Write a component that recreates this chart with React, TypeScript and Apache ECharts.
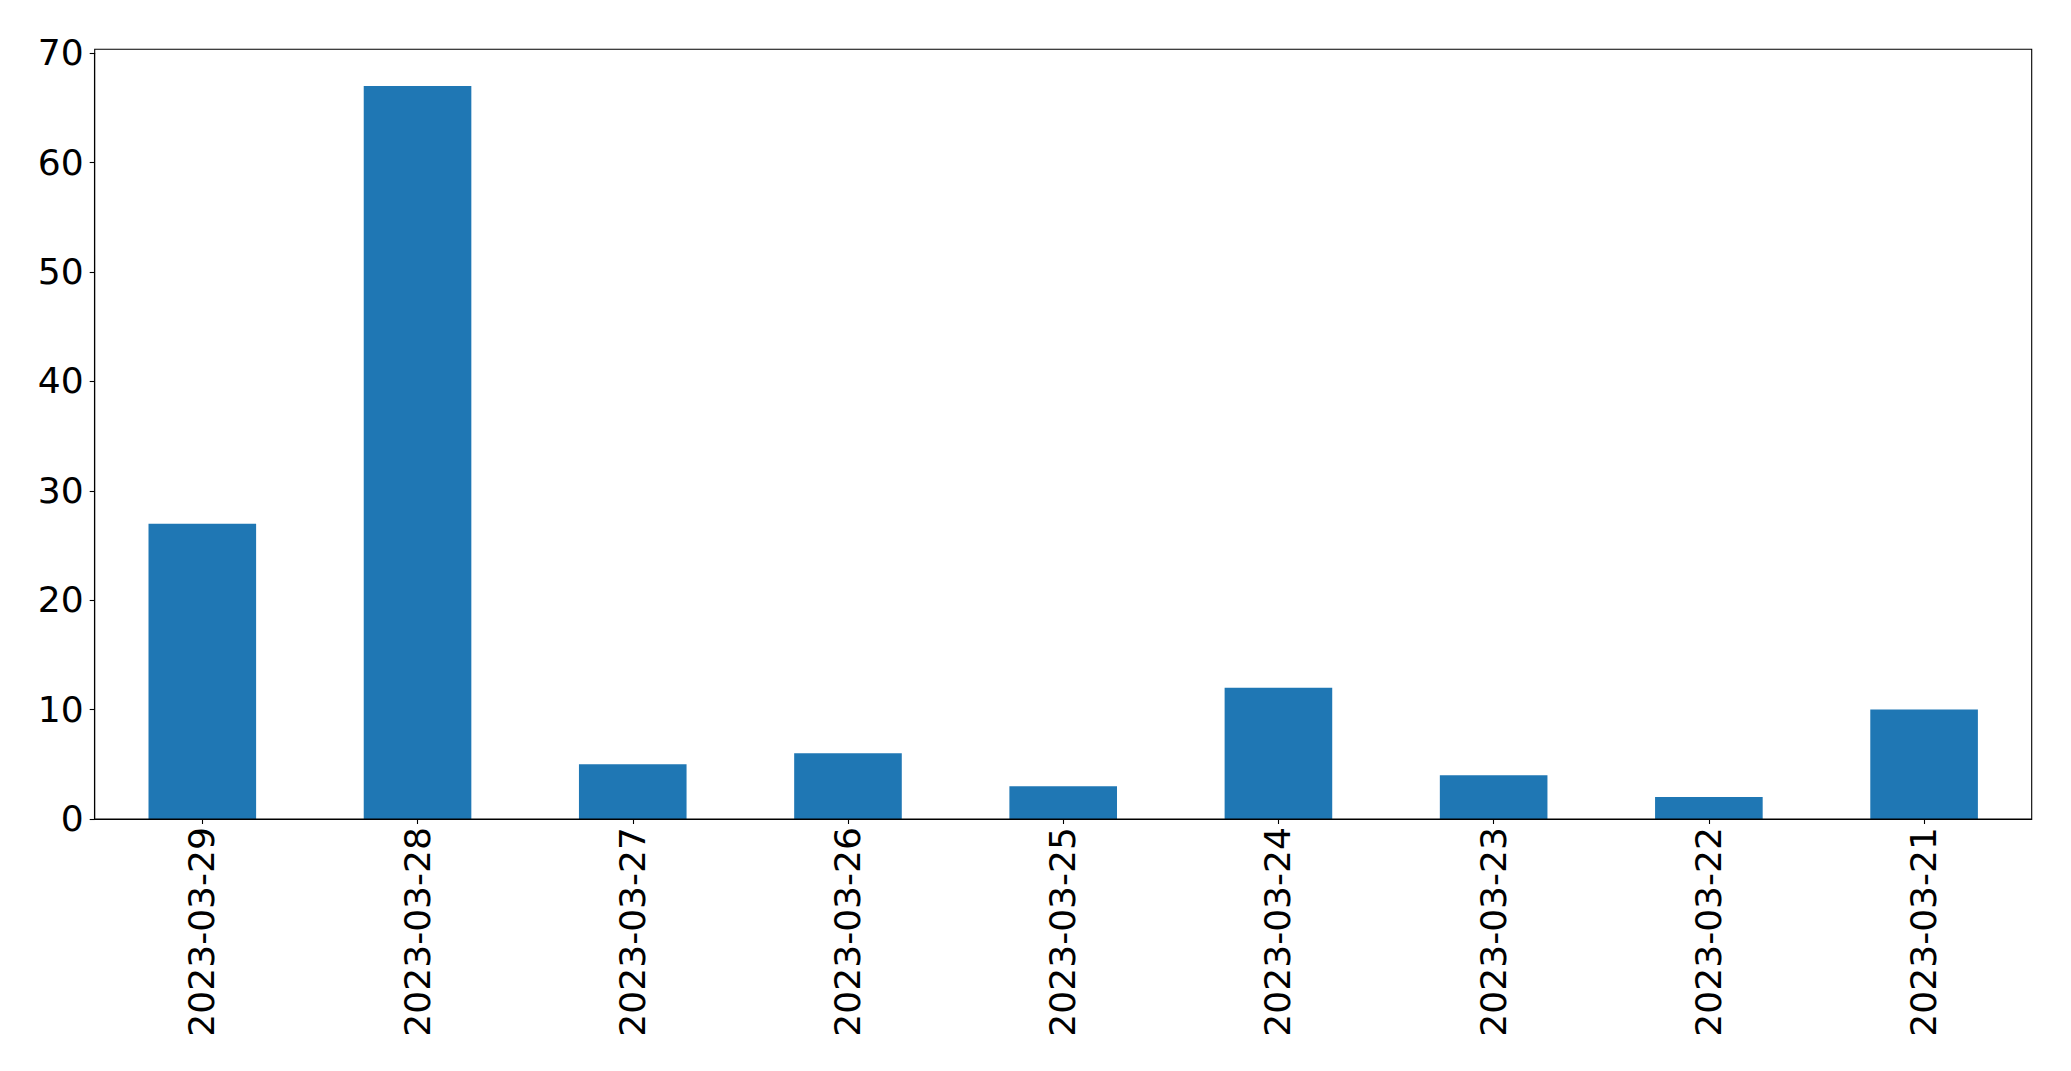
import React, { useEffect, useRef } from "react";
import * as echarts from "echarts";

const categories = [
  "2023-03-29",
  "2023-03-28",
  "2023-03-27",
  "2023-03-26",
  "2023-03-25",
  "2023-03-24",
  "2023-03-23",
  "2023-03-22",
  "2023-03-21",
];
const values = [27, 67, 5, 6, 3, 12, 4, 2, 10];

const W = 2071;
const H = 1071;
const LEFT = 94.7;
const RIGHT_X = 2031.7;
const TOP_FRAME = 49.3;
const TOP_70 = 53.3;
const BOTTOM_Y = 819;

export default function App() {
  const ref = useRef<HTMLDivElement>(null);
  useEffect(() => {
    if (!ref.current) return;
    const chart = echarts.init(ref.current, null, { renderer: "svg" });
    const font = "DejaVu Sans";
    chart.setOption({
      animation: false,
      backgroundColor: "#ffffff",
      grid: {
        left: LEFT,
        right: W - RIGHT_X,
        top: TOP_70,
        bottom: H - BOTTOM_Y,
        containLabel: false,
      },
      xAxis: {
        type: "category",
        data: categories,
        boundaryGap: true,
        axisLine: { show: true, lineStyle: { color: "#000", width: 1.1 } },
        axisTick: { show: true, alignWithLabel: true, length: 5, lineStyle: { color: "#000", width: 1.1 } },
        axisLabel: {
          rotate: 90,
          interval: 0,
          margin: 8,
          fontSize: 36.1,
          fontFamily: font,
          color: "#000",
        },
        splitLine: { show: false },
      },
      yAxis: {
        type: "value",
        min: 0,
        max: 70,
        interval: 10,
        axisLine: { show: true, lineStyle: { color: "#000", width: 1.1 } },
        axisTick: { show: true, length: 5, lineStyle: { color: "#000", width: 1.1 } },
        axisLabel: {
          margin: 11,
          fontSize: 36.1,
          fontFamily: font,
          color: "#000",
        },
        splitLine: { show: false },
      },
      series: [
        {
          type: "bar",
          data: values,
          barWidth: "50%",
          itemStyle: { color: "#1f77b4" },
        },
      ],
      graphic: [
        {
          type: "rect",
          shape: {
            x: LEFT,
            y: TOP_FRAME,
            width: RIGHT_X - LEFT,
            height: BOTTOM_Y - TOP_FRAME,
          },
          style: { fill: "none", stroke: "#000", lineWidth: 1.1 },
          z: 10,
          silent: true,
        },
      ],
    });
    return () => chart.dispose();
  }, []);
  return (
    <div
      ref={ref}
      style={{ position: "absolute", left: 0, top: 0, width: W, height: H }}
    />
  );
}
